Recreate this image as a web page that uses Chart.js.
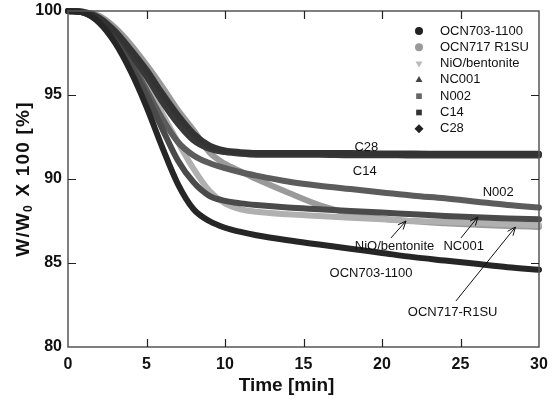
<!DOCTYPE html>
<html>
<head>
<meta charset="utf-8">
<script src="https://cdn.jsdelivr.net/npm/chart.js@4.4.0/dist/chart.umd.min.js"></script>
<style>
  html, body { margin: 0; padding: 0; background: #fff; }
  #wrap { width: 552px; height: 410px; }
</style>
</head>
<body>
<div id="wrap"><canvas id="tgaChart"></canvas></div>
<script>
// --- DATA (weight loss curves) ---
const timeMin = [0, 1, 2, 3, 4, 5, 6, 7, 8, 9, 10, 11, 12, 14, 16, 18, 20, 22, 24, 26, 28, 30];
const ocn703  = [100, 99.9, 99.3, 98.1, 96.4, 94.3, 91.9, 89.7, 88.2, 87.5, 87.1, 86.85, 86.65, 86.35, 86.1, 85.85, 85.6, 85.35, 85.15, 84.95, 84.75, 84.6];
const ocn717  = [100, 99.95, 99.7, 99.0, 98.0, 96.8, 95.5, 94.1, 92.9, 91.6, 90.9, 90.45, 90.0, 89.2, 88.45, 87.95, 87.65, 87.48, 87.37, 87.28, 87.2, 87.15];
const nio     = [100, 99.95, 99.5, 98.6, 97.3, 95.7, 93.9, 92.2, 90.6, 89.3, 88.55, 88.2, 88.05, 87.9, 87.8, 87.7, 87.6, 87.5, 87.45, 87.38, 87.3, 87.25];
const nc001   = [100, 99.9, 99.3, 98.2, 96.8, 95.0, 93.0, 91.1, 89.8, 89.0, 88.7, 88.55, 88.45, 88.3, 88.2, 88.1, 88.0, 87.9, 87.8, 87.72, 87.65, 87.6];
const n002    = [100, 99.9, 99.4, 98.4, 97.0, 95.3, 93.6, 92.2, 91.4, 90.95, 90.65, 90.4, 90.2, 89.85, 89.6, 89.4, 89.2, 89.0, 88.85, 88.65, 88.45, 88.3];
const c14     = [100, 99.9, 99.5, 98.6, 97.4, 96.1, 94.6, 93.3, 92.3, 91.8, 91.6, 91.5, 91.45, 91.45, 91.45, 91.42, 91.42, 91.4, 91.4, 91.4, 91.4, 91.4];
const c28     = [100, 99.95, 99.6, 98.8, 97.7, 96.5, 95.1, 93.8, 92.7, 92.0, 91.7, 91.6, 91.55, 91.55, 91.55, 91.55, 91.52, 91.52, 91.5, 91.5, 91.5, 91.5];

const seriesNames = ['OCN703-1100', 'OCN717 R1SU', 'NiO/bentonite', 'NC001', 'N002', 'C14', 'C28'];
const xTicks = [0, 5, 10, 15, 20, 25, 30];
const yTicks = [80, 85, 90, 95, 100];

// curve labels and arrows, in data units (time, %)
const curveLabels = [
    { text: 'C28', t: 19.0, v: 91.9 },
    { text: 'C14', t: 18.9, v: 90.48 },
    { text: 'N002', t: 27.4, v: 89.23 },
    { text: 'NiO/bentonite', t: 20.8, v: 86.01 },
    { text: 'NC001', t: 25.2, v: 86.01 },
    { text: 'OCN703-1100', t: 19.3, v: 84.35 },
    { text: 'OCN717-R1SU', t: 24.5, v: 82.08 }
];
const arrows = [
    { t0: 20.57, v0: 86.49, t1: 21.53, v1: 87.5 },
    { t0: 25.03, v0: 86.49, t1: 26.11, v1: 87.74 },
    { t0: 24.71, v0: 82.74, t1: 28.5, v1: 87.14 }
];

const FONT = "'Liberation Sans', Arial, sans-serif";

const toPoints = arr => timeMin.map((t, i) => ({ x: t, y: arr[i] }));

const styles = [
    { data: ocn703, color: '#262626', mark: '#222222', style: 'circle', rot: 0, order: 1 },
    { data: ocn717, color: '#9a9a9a', mark: '#999999', style: 'circle', rot: 0, order: 7 },
    { data: nio,    color: '#b0b0b0', mark: '#bbbbbb', style: 'triangle', rot: 180, order: 6 },
    { data: nc001,  color: '#4a4a4a', mark: '#444444', style: 'triangle', rot: 0, order: 3 },
    { data: n002,   color: '#5c5c5c', mark: '#666666', style: 'rect', rot: 0, order: 5 },
    { data: c14,    color: '#383838', mark: '#333333', style: 'rect', rot: 0, order: 4 },
    { data: c28,    color: '#333333', mark: '#222222', style: 'rectRot', rot: 0, order: 2 }
];

const datasets = styles.map((s, i) => ({
    label: seriesNames[i],
    data: toPoints(s.data),
    borderColor: s.color,
    backgroundColor: s.mark,
    borderWidth: 6,
    pointRadius: 0,
    pointStyle: s.style,
    rotation: s.rot,
    cubicInterpolationMode: 'monotone',
    borderCapStyle: 'round',
    borderJoinStyle: 'round',
    clip: false,
    order: s.order
}));

// frame with inward ticks, axis titles, legend inside the plot, curve labels and arrows
const decorPlugin = {
    id: 'decor',
    afterDatasetsDraw(chart) {
        const { ctx, chartArea: a, scales: { x, y } } = chart;
        ctx.save();

        // frame
        ctx.strokeStyle = '#555';
        ctx.lineWidth = 1.5;
        ctx.strokeRect(a.left, a.top, a.right - a.left, a.bottom - a.top);

        // inward ticks on all four sides
        ctx.strokeStyle = '#222';
        ctx.lineWidth = 1.2;
        ctx.beginPath();
        xTicks.slice(1, -1).forEach(t => {
            const px = Math.round(x.getPixelForValue(t)) + 0.5;
            ctx.moveTo(px, a.bottom); ctx.lineTo(px, a.bottom - 8);
            ctx.moveTo(px, a.top); ctx.lineTo(px, a.top + 8);
        });
        yTicks.slice(1, -1).forEach(v => {
            const py = Math.round(y.getPixelForValue(v)) + 0.5;
            ctx.moveTo(a.left, py); ctx.lineTo(a.left + 8, py);
            ctx.moveTo(a.right, py); ctx.lineTo(a.right - 8, py);
        });
        ctx.stroke();

        // axis titles
        ctx.fillStyle = '#111';
        ctx.font = 'bold 19px ' + FONT;
        ctx.textBaseline = 'middle';
        ctx.textAlign = 'center';
        ctx.fillText('Time [min]', (a.left + a.right) / 2 - 17, a.bottom + 39);

        ctx.save();
        ctx.translate(24, (a.top + a.bottom) / 2);
        ctx.rotate(-Math.PI / 2);
        ctx.letterSpacing = '1.2px';
        const partA = 'W/W', partB = ' X 100 [%]';
        const wA = ctx.measureText(partA).width;
        ctx.font = 'bold 12px ' + FONT;
        const wSub = ctx.measureText('0').width + 1;
        ctx.font = 'bold 19px ' + FONT;
        const wB = ctx.measureText(partB).width;
        let sx = -(wA + wSub + wB) / 2;
        ctx.textAlign = 'left';
        ctx.fillText(partA, sx, 0);
        sx += wA;
        ctx.font = 'bold 12px ' + FONT;
        ctx.fillText('0', sx, 5);
        sx += wSub;
        ctx.font = 'bold 19px ' + FONT;
        ctx.fillText(partB, sx, 0);
        ctx.restore();

        // legend
        ctx.font = '13px ' + FONT;
        ctx.textBaseline = 'middle';
        ctx.textAlign = 'left';
        chart.data.datasets.forEach((ds, i) => {
            const ly = a.top + 20 + i * 16.3;
            const lx = a.right - 120;
            ctx.fillStyle = ds.backgroundColor;
            Chart.helpers.drawPoint(ctx, {
                pointStyle: ds.pointStyle, rotation: ds.rotation,
                radius: ds.pointStyle === 'rectRot' ? 4.5 : 4, borderWidth: 0
            }, lx, ly);
            ctx.fillStyle = '#111';
            ctx.fillText(ds.label, lx + 21, ly);
        });

        // curve labels
        ctx.textAlign = 'center';
        curveLabels.forEach(l => {
            ctx.fillText(l.text, x.getPixelForValue(l.t), y.getPixelForValue(l.v));
        });

        // arrows with open heads
        ctx.strokeStyle = '#111';
        ctx.lineWidth = 1;
        arrows.forEach(ar => {
            const x0 = x.getPixelForValue(ar.t0), y0 = y.getPixelForValue(ar.v0);
            const x1 = x.getPixelForValue(ar.t1), y1 = y.getPixelForValue(ar.v1);
            const ang = Math.atan2(y1 - y0, x1 - x0);
            ctx.beginPath();
            ctx.moveTo(x0, y0); ctx.lineTo(x1, y1);
            [0.4, -0.4].forEach(d => {
                ctx.moveTo(x1, y1);
                ctx.lineTo(x1 - 9 * Math.cos(ang + d), y1 - 9 * Math.sin(ang + d));
            });
            ctx.stroke();
        });

        ctx.restore();
    }
};

new Chart(document.getElementById('tgaChart'), {
    type: 'line',
    data: { datasets },
    options: {
        responsive: true,
        maintainAspectRatio: false,
        animation: false,
        layout: { padding: { top: 11, right: 13, left: 0, bottom: 0 } },
        plugins: { legend: { display: false }, tooltip: { enabled: false } },
        scales: {
            x: {
                type: 'linear', min: 0, max: 30,
                afterFit: s => { s.height = 63; s.paddingLeft = 0; s.paddingRight = 0; },
                afterBuildTicks: s => { s.ticks = xTicks.map(v => ({ value: v })); },
                grid: { display: false, drawTicks: false },
                border: { display: false },
                ticks: { padding: 8, color: '#111', font: { family: FONT, size: 16, weight: 'bold' } }
            },
            y: {
                min: 80, max: 100,
                afterFit: s => { s.width = 68; s.paddingTop = 0; s.paddingBottom = 0; },
                afterBuildTicks: s => { s.ticks = yTicks.map(v => ({ value: v })); },
                grid: { display: false, drawTicks: false },
                border: { display: false },
                ticks: { padding: 6, color: '#111', font: { family: FONT, size: 16, weight: 'bold' } }
            }
        }
    },
    plugins: [decorPlugin]
});
</script>
</body>
</html>
